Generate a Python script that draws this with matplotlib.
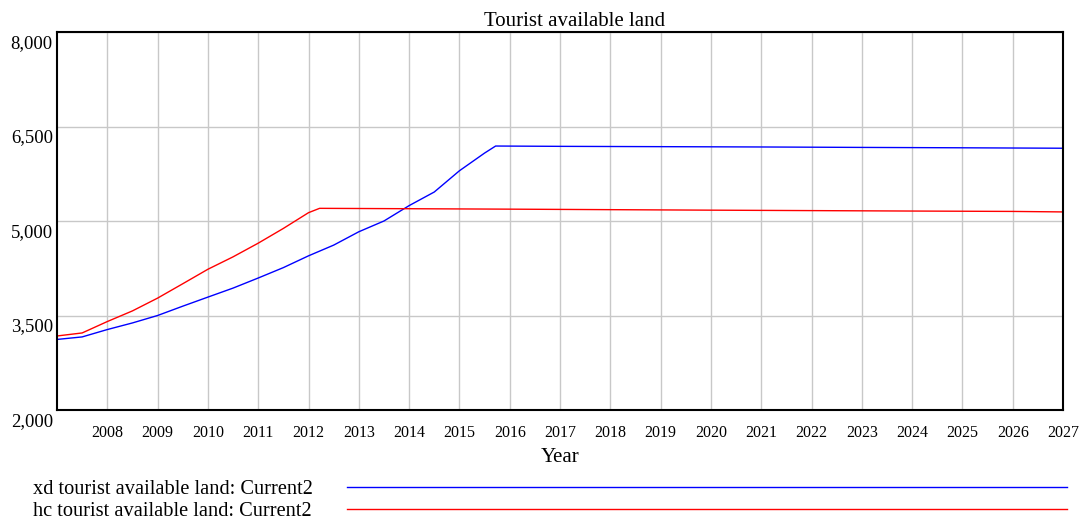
import matplotlib

matplotlib.use('Agg')
import matplotlib.pyplot as plt
import matplotlib.transforms as mtransforms
from matplotlib.ticker import FuncFormatter

plt.rcParams['font.family'] = ['Liberation Serif', 'DejaVu Serif']

# values
xd_years = [2007, 2007.5, 2008, 2008.5, 2009, 2009.5, 2010, 2010.5, 2011, 2011.5,
            2012, 2012.5, 2013, 2013.5, 2014, 2014.5, 2015, 2015.5, 2015.72,
            2017, 2019, 2021, 2023, 2025, 2027]
xd_values = [3120, 3160, 3277, 3382, 3500, 3648, 3792, 3935, 4095, 4260,
             4447, 4617, 4829, 5000, 5244, 5460, 5797, 6078, 6190,
             6185, 6180, 6175, 6168, 6162, 6155]

hc_years = [2007, 2007.5, 2008, 2008.5, 2009, 2009.5, 2010, 2010.5, 2011, 2011.5,
            2012, 2012.22, 2014, 2016, 2018, 2020, 2022, 2024, 2026, 2027]
hc_values = [3175, 3223, 3404, 3573, 3776, 4004, 4234, 4431, 4648, 4882,
             5132, 5201, 5195, 5188, 5180, 5172, 5165, 5158, 5152, 5144]

x_ticks = list(range(2008, 2028))
y_ticks = [2000, 3500, 5000, 6500, 8000]

fig = plt.figure(figsize=(10.83, 5.2), dpi=100)
ax = fig.add_axes([57 / 1083, 1 - 410 / 520, (1063 - 57) / 1083, (410 - 32) / 520])

ax.plot(xd_years, xd_values, color='blue', lw=1.0)
ax.plot(hc_years, hc_values, color='red', lw=1.0)

ax.set_xlim(2007, 2027)
ax.set_ylim(2000, 8000)
ax.set_xticks(x_ticks)
ax.set_yticks(y_ticks)
ax.yaxis.set_major_formatter(FuncFormatter(lambda v, p: f'{int(v):,}'))
ax.grid(True, color='#c8c8c8', lw=1.0)
ax.tick_params(axis='y', length=0, labelsize=13.5, pad=3)
ax.tick_params(axis='x', length=0, labelsize=11.5, pad=11)
for s in ax.spines.values():
    s.set_linewidth(1.5)
    s.set_color('black')

# y labels sit just below their gridlines
shift = mtransforms.ScaledTranslation(0, -2 / 72, fig.dpi_scale_trans)
for lab in ax.get_yticklabels():
    lab.set_verticalalignment('top')
    lab.set_transform(lab.get_transform() + shift)

fig.text(575 / 1083, 1 - 21 / 520, 'Tourist available land', fontsize=15,
         ha='center', va='center')
ax.set_xlabel('Year', fontsize=15, labelpad=5)

# legend drawn as text + line, as in the reference
fig.text(33 / 1083, 1 - 489 / 520, 'xd tourist available land: Current2',
         fontsize=14.7, va='center', ha='left')
fig.text(33 / 1083, 1 - 511 / 520, 'hc tourist available land: Current2',
         fontsize=14.7, va='center', ha='left')
fig.add_artist(plt.Line2D([347 / 1083, 1067 / 1083], [1 - 487 / 520] * 2, color='blue', lw=1.0))
fig.add_artist(plt.Line2D([347 / 1083, 1067 / 1083], [1 - 509 / 520] * 2, color='red', lw=1.0))

fig.savefig('out.png', dpi=100)
